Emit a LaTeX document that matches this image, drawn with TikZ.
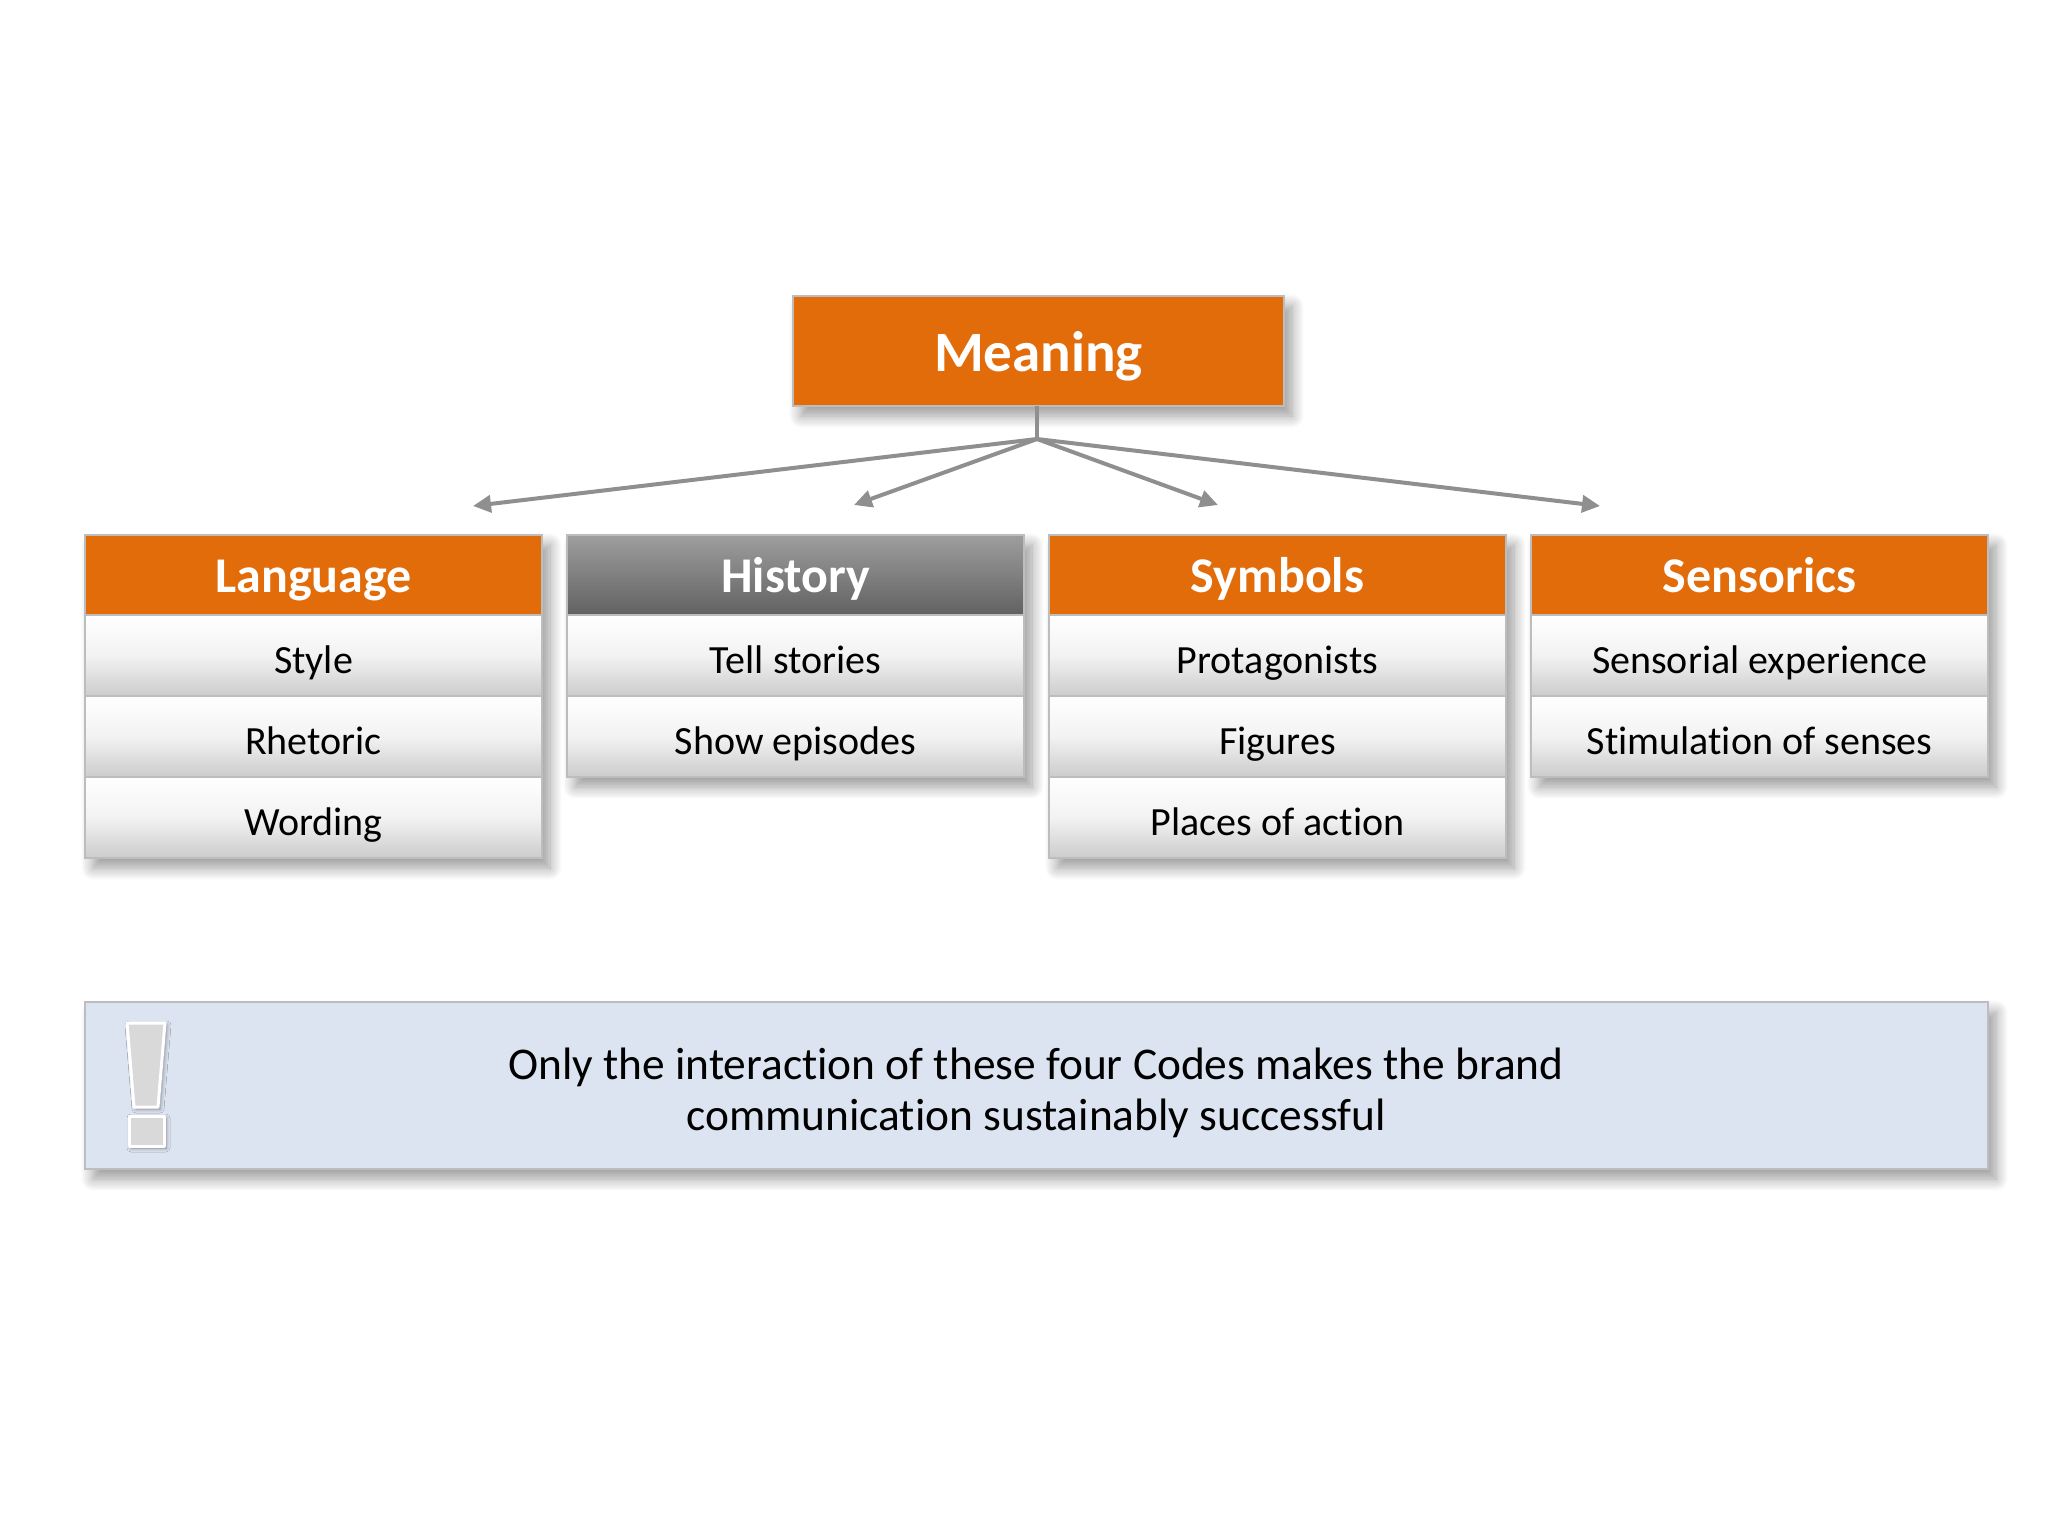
\documentclass[tikz,border=0pt]{standalone}
\usepackage{fontspec}
\setmainfont[Ligatures=NoCommon]{Carlito}
\usetikzlibrary{positioning,shadows.blur,arrows.meta}
\definecolor{codeorange}{HTML}{E36C0A}
\definecolor{rimgray}{HTML}{BDBDBD}
\definecolor{notefill}{HTML}{DCE4F1}
\definecolor{linkgray}{HTML}{8F8F8F}
\tikzset{
  softshadow/.style={blur shadow={shadow xshift=4pt,shadow yshift=-5pt,shadow blur steps=12,shadow blur radius=6pt,shadow opacity=40}},
  markshadow/.style={blur shadow={shadow xshift=1pt,shadow yshift=-1pt,shadow blur radius=2pt,shadow blur steps=5,shadow opacity=40}},
  colback/.style={fill=white,outer sep=0pt,inner sep=0pt,softshadow,minimum width=228.5pt},
  headbox/.style={draw=rimgray,line width=1pt,outer sep=0pt,fill=codeorange,text=white,font=\fontsize{25}{30}\selectfont\bfseries,text height=22pt,text depth=5pt,minimum width=228.5pt,minimum height=40pt},
  greyhead/.style={headbox,top color=black!38,bottom color=black!62,draw=rimgray},
  itembox/.style={draw=rimgray,line width=1pt,outer sep=0pt,top color=white,bottom color=black!20,middle color=black!5,text=black,font=\fontsize{20}{24}\selectfont,text height=23pt,text depth=5pt,minimum width=228.5pt,minimum height=40.5pt},
  linkline/.style={draw=linkgray,line width=2pt},
  link/.style={linkline,-{Triangle[length=9pt,width=8.5pt]}},
  markpart/.style={draw=white,line width=1.5pt,fill=black!15,line join=round,markshadow},
}
\begin{document}
\begin{tikzpicture}[x=0.5pt,y=-0.5pt]
\useasboundingbox (0,0) rectangle (2048,1536);
\node[headbox,softshadow,font=\fontsize{28.5}{34}\selectfont\bfseries,text height=26.5pt,text depth=6pt,minimum width=245.5pt,minimum height=55pt] (meaning) at (1038.5,351) {Meaning};
% shadows of the columns
\node[colback,minimum height=161.5pt] (languagecol) at (313.5,696.5) {};
\node[colback,minimum height=121pt] (historycol) at (795.5,656) {};
\node[colback,minimum height=161.5pt] (symbolscol) at (1277.5,696.5) {};
\node[colback,minimum height=121pt] (sensoricscol) at (1759.5,656) {};
\node[headbox] (language) at (313.5,575) {Language};
\node[itembox,below=0pt of language] (style) {Style};
\node[itembox,below=0pt of style] (rhetoric) {Rhetoric};
\node[itembox,below=0pt of rhetoric] (wording) {Wording};
\node[greyhead] (history) at (795.5,575) {History};
\node[itembox,below=0pt of history] (tell) {Tell stories};
\node[itembox,below=0pt of tell] (show) {Show episodes};
\node[headbox] (symbols) at (1277.5,575) {Symbols};
\node[itembox,below=0pt of symbols] (protagonists) {Protagonists};
\node[itembox,below=0pt of protagonists] (figures) {Figures};
\node[itembox,below=0pt of figures] (places) {Places of action};
\node[headbox] (sensorics) at (1759.5,575) {Sensorics};
\node[itembox,below=0pt of sensorics] (sensorial) {Sensorial experience};
\node[itembox,below=0pt of sensorial] (stimulation) {Stimulation of senses};
\node[draw=rimgray,line width=1pt,fill=notefill,softshadow,minimum width=951.5pt,minimum height=83.5pt,outer sep=0pt] (note) at (1036.5,1085.5) {};
\node[align=center,font=\fontsize{22.7}{25.5}\selectfont,text=black] (notetext) at (1036,1093) {Only the interaction of these four Codes makes the brand\\communication sustainably successful};
% exclamation mark
\draw[markpart] (127,1023) -- (165,1023) -- (158,1107) -- (134,1107) -- cycle;
\draw[markpart] (129,1116) rectangle (164,1146);
% links
\coordinate (hub) at (1037,439);
\coordinate (tolanguage) at (473,506);
\coordinate (tohistory) at (854,505);
\coordinate (tosymbols) at (1218,505);
\coordinate (tosensorics) at (1600,506);
\draw[linkline] (meaning.south -| hub) -- (hub);
\draw[link] (hub) -- (tolanguage);
\draw[link] (hub) -- (tohistory);
\draw[link] (hub) -- (tosymbols);
\draw[link] (hub) -- (tosensorics);
\end{tikzpicture}
\end{document}
